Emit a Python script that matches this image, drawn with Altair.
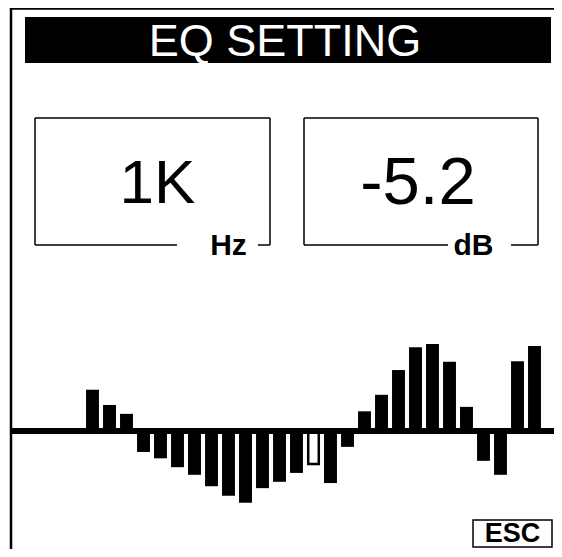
import altair as alt
import pandas as pd

# --- data ---------------------------------------------------------------
freqs = ["20", "25", "31.5", "40", "50", "63", "80", "100", "125", "160",
         "200", "250", "315", "400", "500", "630", "800", "1K", "1.25K", "1.6K",
         "2K", "2.5K", "3.15K", "4K", "5K", "6.3K", "8K", "10K", "12.5K", "16K", "20K"]
gains = [0, 0, 0, 0, 6.5, 4.1, 2.7, -3.3, -4.3, -5.7, -6.9, -8.7, -10.2, -11.3,
         -9.0, -8.0, -6.6, -5.2, -8.2, -2.5, 3.1, 5.7, 9.6, 13.2, 13.7, 10.9,
         3.8, -4.7, -6.9, 11.0, 13.4]
selected = "1K"
title_text = "EQ SETTING"
freq_unit = "Hz"
gain_unit = "dB"
esc_text = "ESC"

sel_idx = freqs.index(selected)
df = pd.DataFrame({"band": list(range(1, len(freqs) + 1)), "freq": freqs, "db": gains})
df["sel"] = df["freq"] == selected

FONT = "Liberation Sans"
W, H = 546, 541

xs = alt.Scale(domain=[1, 31], range=[16.5, 526.5])
ys = alt.Scale(domain=[-20, 20], range=[550, 296])

base = alt.Chart(df)

bars = base.transform_filter("!datum.sel").transform_calculate(
    lo="datum.band - 0.38", hi="datum.band + 0.38"
).mark_rect(color="black").encode(
    x=alt.X("lo:Q", scale=xs, axis=None),
    x2="hi:Q",
    y=alt.Y("db:Q", scale=ys, axis=None),
    y2=alt.datum(0),
)

sel_bar = base.transform_filter("datum.sel").transform_calculate(
    lo="datum.band - 0.31", hi="datum.band + 0.31"
).mark_rect(fill="white", stroke="black", strokeWidth=2.5).encode(
    x=alt.X("lo:Q", scale=xs, axis=None),
    x2="hi:Q",
    y=alt.Y("db:Q", scale=ys, axis=None),
    y2=alt.datum(0),
)

one = pd.DataFrame({"k": [0]})

zero_line = alt.Chart(one).mark_rule(color="black", strokeWidth=6).encode(
    x=alt.value(3), x2=alt.value(W), y=alt.value(423)
)

def seg(x1, x2, y1, y2, w=1.5):
    return alt.Chart(one).mark_rule(color="black", strokeWidth=w).encode(
        x=alt.value(x1), x2=alt.value(x2), y=alt.value(y1), y2=alt.value(y2)
    )

frame = [
    seg(3, 3, 0, H, 2.5),           # left border
    seg(3, W, 0.5, 0.5, 2.5),       # top border
    # left box
    seg(27, 262, 110, 110), seg(27, 27, 110, 237), seg(262, 262, 110, 237),
    seg(27, 169, 237, 237), seg(250, 262, 237, 237),
    # right box
    seg(296, 530, 110, 110), seg(296, 296, 110, 237), seg(530, 530, 110, 237),
    seg(296, 440, 237, 237), seg(503, 530, 237, 237),
]

title_bar = alt.Chart(one).mark_rect(color="black").encode(
    x=alt.value(17), x2=alt.value(543), y=alt.value(9), y2=alt.value(55)
)

esc_box = alt.Chart(one).mark_rect(fill="white", stroke="black", strokeWidth=1.5).encode(
    x=alt.value(465), x2=alt.value(544), y=alt.value(512), y2=alt.value(539)
)

def txt(s, x, y, size, color="black", weight="normal"):
    return alt.Chart(pd.DataFrame({"t": [s]})).mark_text(
        font=FONT, fontSize=size, fontWeight=weight, color=color,
        align="center", baseline="alphabetic"
    ).encode(text="t:N", x=alt.value(x), y=alt.value(y))

texts = [
    txt(title_text, 277, 48, 45, "white"),
    txt(selected, 149.5, 195, 62),
    txt(f"{gains[sel_idx]:.1f}", 410, 196, 67),
    txt(freq_unit, 220.5, 247, 30, weight="bold"),
    txt(gain_unit, 465.5, 247, 30, weight="bold"),
    txt(esc_text, 504.5, 534, 27, weight="bold"),
]

chart = alt.layer(
    title_bar, *frame, esc_box, bars, sel_bar, zero_line, *texts
).properties(
    width=W, height=H, autosize=alt.AutoSizeParams(type="none"), padding=0,
    background="white"
).configure_view(stroke=None)

chart.save("out.html", embed_options={"renderer": "svg", "actions": False})
